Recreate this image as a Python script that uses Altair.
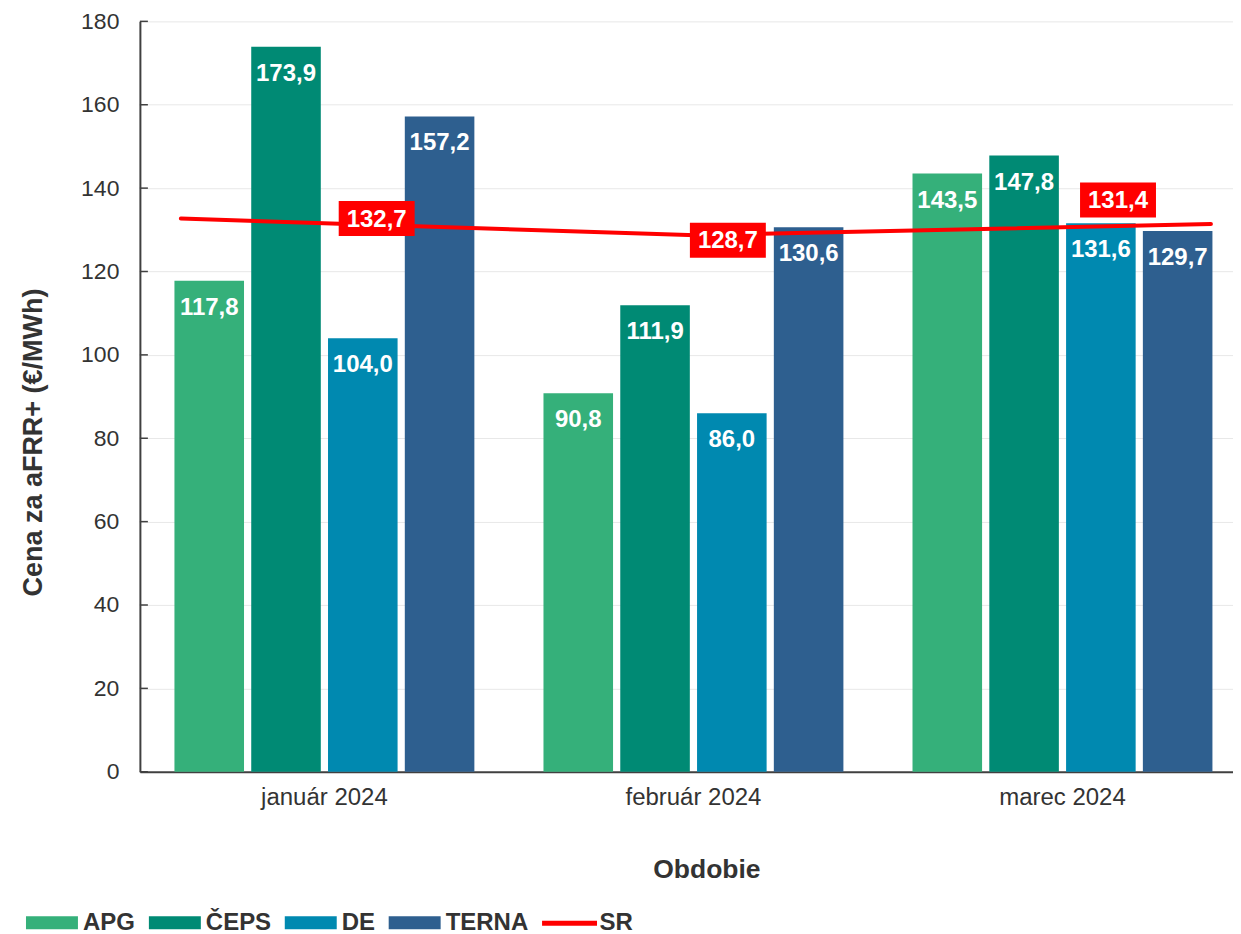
import altair as alt
import pandas as pd

months = ["január 2024", "február 2024", "marec 2024"]
series = ["APG", "ČEPS", "DE", "TERNA"]
apg = [117.8, 90.8, 143.5]
ceps = [173.9, 111.9, 147.8]
de = [104.0, 86.0, 131.6]
terna = [157.2, 130.6, 129.7]
sr = [132.7, 128.7, 131.4]
y_ticks = [0, 20, 40, 60, 80, 100, 120, 140, 160, 180]

# styling
colors = ["#35B07A", "#008A74", "#0089B0", "#2E5F8F"]
SR_COLOR = "#FF0000"
FONT = "Liberation Sans"
TXT = "#333333"
SR_LABEL_DX = [196, 32, -93]
SR_LABEL_DY = [0, 5, -24]

rows = []
for s, vals in zip(series, [apg, ceps, de, terna]):
    for m, v in zip(months, vals):
        rows.append({"month": m, "series": s, "value": v})
bars_df = pd.DataFrame(rows)
line_df = pd.DataFrame({"idx": list(range(len(months))), "month": months,
                        "value": sr, "series": ["SR"] * len(months)})
ticks_df = pd.DataFrame({"tick": y_ticks})

W, H = 1108, 751
fmt = "replace(format(datum.value, '.1f'), '.', ',')"

yscale = alt.Scale(domain=[0, 180], nice=False)
xscale = alt.Scale(type="band", paddingInner=0, paddingOuter=0)
offscale = alt.Scale(type="band", paddingInner=0.094, paddingOuter=0.45)

x_enc = alt.X("month:N", sort=months, scale=xscale,
              axis=alt.Axis(title="Obdobie", labelAngle=0, ticks=False,
                            domainColor="#404040", domainWidth=2,
                            labelFont=FONT, labelFontSize=24, labelColor=TXT,
                            labelPadding=14, titleFont=FONT, titleFontSize=26.5,
                            titleFontWeight="bold", titleColor=TXT,
                            titlePadding=47, titleX=567, titleAlign="center",
                            grid=False))
x_plain = alt.X("month:N", sort=months, scale=xscale)
xoff = alt.XOffset("series:N", sort=series, scale=offscale)
y_enc = alt.Y("value:Q", scale=yscale,
              axis=alt.Axis(title="Cena za aFRR+ (€/MWh)", values=y_ticks,
                            ticks=False, labelPadding=21, labelFont=FONT,
                            labelFontSize=23, labelColor=TXT,
                            domainColor="#404040", domainWidth=2,
                            gridColor="#E8E8E8", gridWidth=1,
                            titleFont=FONT, titleFontSize=27,
                            titleFontWeight="bold", titleColor=TXT,
                            titleX=-106, titleY=421, titleAlign="center",
                            titleBaseline="middle", titleAngle=270))

bars = alt.Chart(bars_df).mark_bar().encode(
    x=x_enc, xOffset=xoff, y=y_enc,
    color=alt.Color("series:N", sort=series,
                    scale=alt.Scale(domain=series, range=colors),
                    legend=alt.Legend(orient="none", legendX=-116, legendY=890,
                                      direction="horizontal", title=None,
                                      symbolType="M-1,-0.65L4.2,-0.65L4.2,0.65L-1,0.65Z",
                                      symbolSize=400, symbolStrokeWidth=0,
                                      symbolOpacity=1, labelOffset=35,
                                      columnPadding=11, padding=0,
                                      labelFont=FONT, labelFontSize=24,
                                      labelFontWeight="bold", labelColor=TXT)),
)

bar_text = alt.Chart(bars_df).transform_calculate(label=fmt).mark_text(
    font=FONT, fontSize=24, fontWeight="bold", color="white",
    baseline="middle", align="center", dy=27,
).encode(x=x_plain, xOffset=xoff, y=alt.Y("value:Q", scale=yscale), text="label:N")

tick_rules = alt.Chart(ticks_df).mark_rule(color="#404040", strokeWidth=1.5).encode(
    y=alt.Y("tick:Q", scale=yscale), x=alt.value(0), x2=alt.value(8))

bar_group = alt.layer(bars, bar_text, tick_rules)

xline = alt.X("idx:Q", scale=alt.Scale(domain=[-0.0795, 2.07], nice=False, zero=False),
              axis=None)
line = alt.Chart(line_df).mark_line(strokeWidth=4, strokeCap="round").encode(
    x=xline, y=alt.Y("value:Q", scale=yscale),
    stroke=alt.Stroke("series:N", scale=alt.Scale(domain=["SR"], range=[SR_COLOR]),
                      legend=alt.Legend(orient="none", legendX=400, legendY=890,
                                        title=None, direction="horizontal",
                                        symbolType="M-1,0L4.5,0", symbolSize=400,
                                        symbolStrokeWidth=5,
                                        symbolStrokeColor=SR_COLOR,
                                        symbolFillColor="transparent",
                                        labelOffset=35, padding=0,
                                        labelFont=FONT, labelFontSize=24,
                                        labelFontWeight="bold", labelColor=TXT)),
)

label_layers = []
for i in range(len(months)):
    base = alt.Chart(line_df).transform_filter(alt.datum.idx == i).transform_calculate(label=fmt)
    box = base.mark_point(shape="M-1,-0.46L1,-0.46L1,0.46L-1,0.46Z", size=5776,
                          filled=True, color=SR_COLOR, opacity=1, strokeWidth=0,
                          xOffset=SR_LABEL_DX[i], yOffset=SR_LABEL_DY[i]).encode(
        x=xline, y=alt.Y("value:Q", scale=yscale))
    txt = base.mark_text(font=FONT, fontSize=24, fontWeight="bold", color="white",
                         align="center", baseline="middle",
                         dx=SR_LABEL_DX[i], dy=SR_LABEL_DY[i] + 1).encode(
        x=xline, y=alt.Y("value:Q", scale=yscale), text="label:N")
    label_layers += [box, txt]

line_group = alt.layer(line, *label_layers)

chart = alt.layer(bar_group, line_group).resolve_scale(x="independent").properties(
    width=W, height=H,
    padding={"left": 12, "top": 2, "right": -14, "bottom": 0},
    background="white",
).configure_view(stroke=None)

chart.save("out.html", embed_options={"renderer": "svg", "actions": False})
